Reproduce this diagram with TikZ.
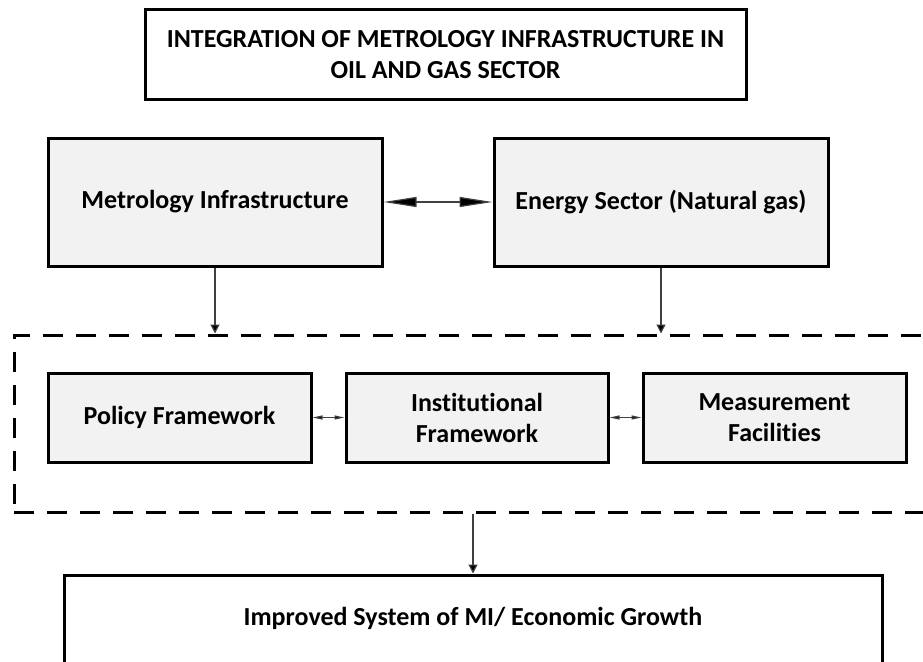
\documentclass[tikz,border=0pt]{standalone}
\usepackage{fontspec}
\setmainfont{Carlito}[Ligatures={NoCommon}]
\usetikzlibrary{arrows.meta}
\definecolor{boxfill}{HTML}{F2F2F2}
\tikzset{
  boxbase/.style={draw=black, line width=3pt, align=center, font=\fontsize{26}{31}\selectfont\bfseries, inner sep=0pt},
  graybox/.style={boxbase, fill=boxfill},
  whitebox/.style={boxbase, fill=white},
  groupbox/.style={draw=black, line width=3pt, dash pattern=on 20pt off 13pt, inner sep=0pt},
  bigtwo/.style={line width=1.2pt, draw=black!75, {Triangle[length=33pt,width=10pt,fill=black]}-{Triangle[length=33pt,width=10pt,fill=black]}},
  smalltwo/.style={line width=1.2pt, draw=black!75, {Triangle[length=10pt,width=4pt,fill=black]}-{Triangle[length=10pt,width=4pt,fill=black]}},
  downarrow/.style={line width=1.2pt, draw=black!75, -{Triangle[length=9pt,width=9pt,fill=black]}},
  labeltext/.style={font=\fontsize{26}{31}\selectfont\bfseries, inner sep=0pt}
}
\begin{document}
\begin{tikzpicture}[x=1pt,y=-1pt]
\useasboundingbox[fill=white] (0,0) rectangle (923,661);
\node[whitebox, minimum width=601pt, minimum height=89pt] (title) at (445.5,54.5)
  {INTEGRATION OF METROLOGY INFRASTRUCTURE IN\\OIL AND GAS SECTOR};
\node[graybox, minimum width=334pt, minimum height=128pt] (metro) at (215,202) {Metrology Infrastructure};
\node[graybox, minimum width=334pt, minimum height=128pt] (energy) at (661,202) {Energy Sector (Natural gas)};
\node[groupbox, minimum width=926pt, minimum height=177pt] (group) at (477,423.5) {};
\node[graybox, minimum width=263pt, minimum height=89pt] (policy) at (179.5,417.5) {Policy Framework};
\node[graybox, minimum width=262pt, minimum height=89pt] (inst) at (477,417.5) {Institutional\\Framework};
\node[graybox, minimum width=263pt, minimum height=89pt] (meas) at (774.5,417.5) {Measurement\\Facilities};
\node[whitebox, minimum width=818pt, minimum height=120pt] (bottom) at (473,635) {};
\node[labeltext] (bottomtext) at (473,618) {Improved System of MI/ Economic Growth};
\draw[bigtwo] (metro.east) -- (energy.west);
\draw[smalltwo] (policy.east) -- (inst.west);
\draw[smalltwo] (inst.east) -- (meas.west);
\draw[downarrow] (metro.south) -- (metro.south |- group.north);
\draw[downarrow] (energy.south) -- (energy.south |- group.north);
\draw[downarrow] (bottom.north |- group.south) -- (bottom.north);
\end{tikzpicture}
\end{document}
